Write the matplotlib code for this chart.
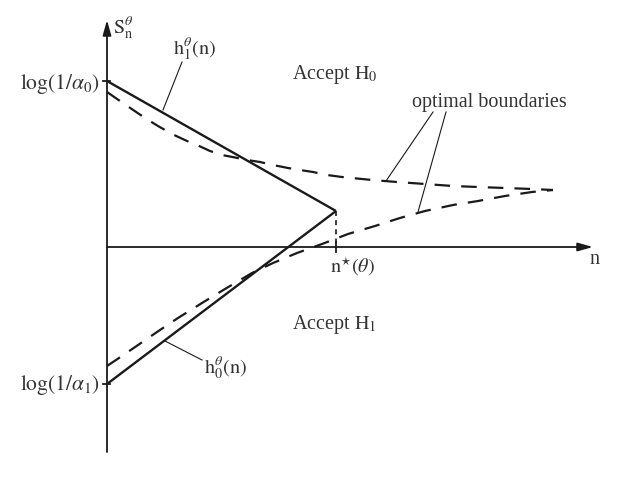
import matplotlib
matplotlib.use("Agg")
import matplotlib.pyplot as plt

plt.rcParams['font.family'] = ['Liberation Serif', 'DejaVu Serif']
plt.rcParams['mathtext.fontset'] = 'stix'

# ---- data (schematic values; origin = axis crossing) ----
# solid boundaries h1 (upper, decreasing) and h0 (lower, increasing)
h1_x = [0, 229]
h1_y = [166, 36]
h0_x = [0, 229]
h0_y = [-137, 36]
n_star = 229

# optimal boundaries (dashed)
upper_x = [0, 13, 38, 51, 65, 80, 90, 103, 115, 128, 140, 153, 166, 181, 193,
           206, 220, 235, 265, 290, 318, 346, 371, 398, 425, 446]
upper_y = [155, 146, 129, 121, 113, 106, 102, 96, 92, 89.5, 87, 85, 82, 79, 77,
           75, 72, 70, 67, 65, 63, 61, 60, 59, 58, 57]
lower_x = [0, 15, 50, 71, 95, 118, 145, 166, 190, 215, 241, 268, 293, 318,
           346, 371, 398, 425, 446]
lower_y = [-119, -109, -85, -71, -56, -42, -26, -16, -6, 3, 13, 21, 29, 36,
           42, 46, 51, 55, 57]

tick_upper = 166
tick_lower = -137

fig = plt.figure(figsize=(6.23, 4.81), dpi=100)
ax = fig.add_axes([0, 0, 1, 1])
ax.set_xlim(-107, 516)
ax.set_ylim(-233, 248)
ax.axis('off')

k = '#1a1a1a'
# axes with arrows
ax.annotate('', xy=(486, 0), xytext=(0, 0),
            arrowprops=dict(arrowstyle='-|>,head_length=0.9,head_width=0.25', color=k, lw=1.3,
                            shrinkA=0, shrinkB=0))
ax.annotate('', xy=(0, 227), xytext=(0, -205),
            arrowprops=dict(arrowstyle='-|>,head_length=0.9,head_width=0.25', color=k, lw=1.3,
                            shrinkA=0, shrinkB=0))

# ticks on y axis
ax.plot([-4, 3], [tick_upper, tick_upper], color=k, lw=1.3)
ax.plot([-4, 3], [tick_lower, tick_lower], color=k, lw=1.3)

# solid lines
ax.plot(h1_x, h1_y, color=k, lw=1.7, solid_capstyle='butt')
ax.plot(h0_x, h0_y, color=k, lw=1.7, solid_capstyle='butt')

# dashed optimal boundaries
ax.plot(upper_x, upper_y, color=k, lw=1.6, dashes=(7, 5))
ax.plot(lower_x, lower_y, color=k, lw=1.6, dashes=(7, 5))

# vertical dashed at n*
ax.plot([n_star, n_star], [36, 0], color=k, lw=1.2, dashes=(3, 2.5))
ax.plot([n_star, n_star], [5, -5], color=k, lw=1.3)

# leader lines
ax.plot([75, 56], [185, 137], color=k, lw=0.8)
ax.plot([58, 95], [-94, -113], color=k, lw=0.8)
ax.plot([326, 279], [135, 66], color=k, lw=0.8)
ax.plot([339, 311], [135, 35], color=k, lw=0.8)

fs = 14.5
c = '#333333'
ax.text(6, 220, r'$\mathrm{S}_{\mathrm{n}}^{\theta}$', fontsize=fs, color=c, ha='left', va='center')
ax.text(87, 199, r'$\mathrm{h}_{1}^{\theta}(\mathrm{n})$', fontsize=fs, color=c, ha='center', va='center')
ax.text(118, -120, r'$\mathrm{h}_{0}^{\theta}(\mathrm{n})$', fontsize=fs, color=c, ha='center', va='center')
ax.text(-7, 164, r'$\mathrm{log}\left(1/\alpha_0\right)$', fontsize=15.5, color=c, ha='right', va='center')
ax.text(-7, -137, r'$\mathrm{log}\left(1/\alpha_1\right)$', fontsize=15.5, color=c, ha='right', va='center')
ax.text(185, 174, r'Accept $\mathrm{H}_0$', fontsize=fs, color=c, ha='left', va='center')
ax.text(185, -77, r'Accept $\mathrm{H}_1$', fontsize=fs, color=c, ha='left', va='center')
ax.text(305, 146, 'optimal boundaries', fontsize=fs, color=c, ha='left', va='center')
ax.text(246, -19, r'$\mathrm{n}^{\star}(\theta)$', fontsize=fs, color=c, ha='center', va='center')
ax.text(487, -12, 'n', fontsize=fs, color=c, ha='center', va='center')

fig.savefig('out.png', dpi=100)
